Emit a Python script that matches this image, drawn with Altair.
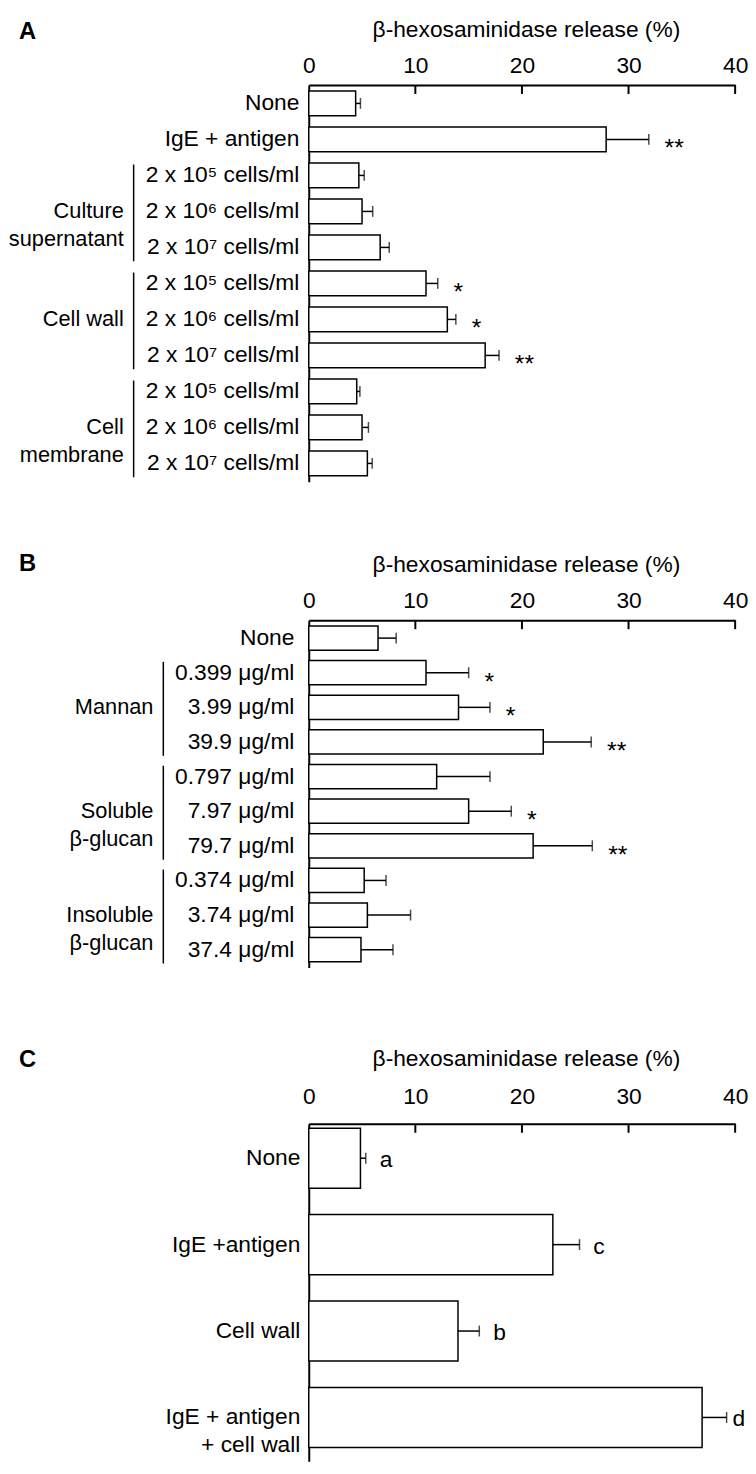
import altair as alt
import pandas as pd

FONT = "Liberation Sans"
TITLE = "β-hexosaminidase release (%)"
TICK_LABELS = [0, 10, 20, 30, 40]
INNER_TICKS = [10, 20, 30, 40]

# ---------------- Panel A ----------------
a_labels = ["None", "IgE + antigen",
            "2 x 10⁵ cells/ml", "2 x 10⁶ cells/ml", "2 x 10⁷ cells/ml",
            "2 x 10⁵ cells/ml", "2 x 10⁶ cells/ml", "2 x 10⁷ cells/ml",
            "2 x 10⁵ cells/ml", "2 x 10⁶ cells/ml", "2 x 10⁷ cells/ml"]
a_groups = ["", "",
            "Culture~supernatant", "Culture~supernatant", "Culture~supernatant",
            "Cell wall", "Cell wall", "Cell wall",
            "Cell~membrane", "Cell~membrane", "Cell~membrane"]
a_means = [4.4, 27.9, 4.7, 5.0, 6.7, 11.0, 13.0, 16.55, 4.5, 5.0, 5.5]
a_sd = [0.45, 4.0, 0.5, 1.0, 0.85, 1.1, 0.8, 1.3, 0.3, 0.6, 0.45]
a_sig = ["", "**", "", "", "", "*", "*", "**", "", "", ""]

# ---------------- Panel B ----------------
b_labels = ["None", "0.399 μg/ml", "3.99 μg/ml", "39.9 μg/ml",
            "0.797 μg/ml", "7.97 μg/ml", "79.7 μg/ml",
            "0.374 μg/ml", "3.74 μg/ml", "37.4 μg/ml"]
b_groups = ["", "Mannan", "Mannan", "Mannan",
            "Soluble~β-glucan", "Soluble~β-glucan", "Soluble~β-glucan",
            "Insoluble~β-glucan", "Insoluble~β-glucan", "Insoluble~β-glucan"]
b_means = [6.5, 11.0, 14.05, 22.0, 12.0, 15.0, 21.05, 5.2, 5.5, 4.9]
b_sd = [1.7, 4.0, 2.95, 4.5, 5.0, 4.0, 5.55, 2.05, 4.05, 3.0]
b_sig = ["", "*", "*", "**", "", "*", "**", "", "", ""]

# ---------------- Panel C ----------------
c_labels = ["None", "IgE +antigen", "Cell wall", "IgE + antigen~+ cell wall"]
c_groups = ["", "", "", ""]
c_means = [4.85, 22.9, 14.0, 36.9]
c_sd = [0.5, 2.5, 2.0, 2.3]
c_sig = ["a", "c", "b", "d"]


def make_panel(letter, labels, groups, means, sds, marks, *, height, p_inner,
               p_outer, align, row_pad, tick_pad, title_y, letter_y,
               group_x, mark_dx, mark_dy, mark_size, edge_dx):
    keys = [f"{i:02d}|{lab}" for i, lab in enumerate(labels)]
    df = pd.DataFrame({"key": keys, "mean": means, "sd": sds, "mark": marks})

    xscale = alt.Scale(domain=[0, 40], nice=False, zero=True)
    xaxis = alt.Axis(orient="top", values=TICK_LABELS, title=None,
                     labelFont=FONT, labelFontSize=23, labelColor="black",
                     labelPadding=tick_pad, labelFlush=False,
                     ticks=False, tickSize=0, grid=False,
                     domainColor="black", domainWidth=2)
    yscale = alt.Scale(paddingInner=p_inner, paddingOuter=p_outer, align=align)
    yaxis = alt.Axis(title=None, labelFont=FONT, labelFontSize=23,
                     labelColor="black", labelPadding=row_pad, labelLimit=400,
                     labelLineHeight=28,
                     labelExpr="split(split(datum.label, '|')[1], '~')",
                     ticks=False, tickSize=0, grid=False,
                     domainColor="black", domainWidth=2)

    def X(f):
        return alt.X(f"{f}:Q", scale=xscale, axis=xaxis)

    def Y(f="key"):
        return alt.Y(f"{f}:N", sort=keys, scale=yscale, axis=yaxis)

    base = alt.Chart(df).transform_calculate(hi="datum.mean + datum.sd")
    bars = base.mark_bar(fill="white", stroke="black", strokeWidth=1.5).encode(
        x=X("mean"), y=Y())
    err = base.mark_rule(color="black", strokeWidth=1.5).encode(
        x=X("mean"), x2="hi:Q", y=Y())
    caps = base.mark_tick(color="black", size=11, thickness=1.5).encode(
        x=X("hi"), y=Y())
    sig = base.transform_filter("datum.hi < 36").mark_text(
        font=FONT, fontSize=mark_size, align="left", baseline="alphabetic",
        dx=mark_dx, dy=mark_dy, color="black").encode(
        x=X("hi"), y=Y(), text="mark:N")
    # the mark next to an error bar ending at the right edge sits closer
    sig_edge = base.transform_filter("datum.hi >= 36").mark_text(
        font=FONT, fontSize=mark_size, align="left", baseline="alphabetic",
        dx=edge_dx, dy=mark_dy, color="black").encode(
        x=X("hi"), y=Y(), text="mark:N")
    ticks = alt.Chart(pd.DataFrame({"t": INNER_TICKS})).mark_rule(
        color="black", strokeWidth=2).encode(
        x=X("t"), y=alt.value(0), y2=alt.value(9))
    let = alt.Chart(pd.DataFrame({"t": [letter]})).mark_text(
        font=FONT, fontSize=24, fontWeight="bold", align="left",
        baseline="middle", color="black").encode(
        x=alt.value(-293), y=alt.value(letter_y), text="t:N")
    ttl = alt.Chart(pd.DataFrame({"t": [TITLE]})).mark_text(
        font=FONT, fontSize=23, align="center", baseline="middle",
        color="black").encode(
        x=alt.value(220), y=alt.value(title_y), text="t:N")

    layers = [bars, err, caps, sig, sig_edge, ticks, let, ttl]

    # group brackets and labels
    names, first, last, mid = [], [], [], []
    for g in dict.fromkeys(groups):
        if not g:
            continue
        idx = [i for i, gg in enumerate(groups) if gg == g]
        names.append(g)
        first.append(keys[idx[0]])
        last.append(keys[idx[-1]])
        mid.append(keys[idx[len(idx) // 2]])
    if names:
        gdf = pd.DataFrame({"name": names, "first": first, "last": last,
                            "mid": mid})
        gbase = alt.Chart(gdf)
        glines = gbase.mark_rule(color="black", strokeWidth=1.5,
                                 yOffset=-11, y2Offset=14).encode(
            x=alt.value(group_x), y=Y("first"), y2="last:N")
        gtext = gbase.transform_calculate(
            lines="split(datum.name, '~')").mark_text(
            font=FONT, fontSize=22, align="right", baseline="middle",
            lineHeight=28, color="black").encode(
            x=alt.value(group_x - 10), y=Y("mid"), text="lines:N")
        layers += [glines, gtext]

    return alt.layer(*layers).properties(width=431, height=height)


panel_a = make_panel("A", a_labels, a_groups, a_means, a_sd, a_sig,
                     height=401, p_inner=0.31, p_outer=0.165, align=0.5,
                     row_pad=10, tick_pad=8, title_y=-56, letter_y=-54,
                     group_x=-177, mark_dx=16, mark_dy=17, mark_size=25,
                     edge_dx=16)
panel_b = make_panel("B", b_labels, b_groups, b_means, b_sd, b_sig,
                     height=351, p_inner=0.30, p_outer=0.165, align=0.5,
                     row_pad=15, tick_pad=8, title_y=-56, letter_y=-57,
                     group_x=-147, mark_dx=16, mark_dy=17, mark_size=25,
                     edge_dx=16)
panel_c = make_panel("C", c_labels, c_groups, c_means, c_sd, c_sig,
                     height=341, p_inner=0.304, p_outer=0.104, align=0.24,
                     row_pad=9, tick_pad=16, title_y=-65, letter_y=-64,
                     group_x=-177, mark_dx=14, mark_dy=9, mark_size=23,
                     edge_dx=6)

chart = alt.vconcat(alt.vconcat(panel_a, panel_b, spacing=67), panel_c,
                    spacing=78).properties(
    padding={"left": 0, "top": 3, "right": 0, "bottom": 0}
).configure_view(strokeWidth=0)

chart.save("out.html", embed_options={"renderer": "svg", "actions": False})
